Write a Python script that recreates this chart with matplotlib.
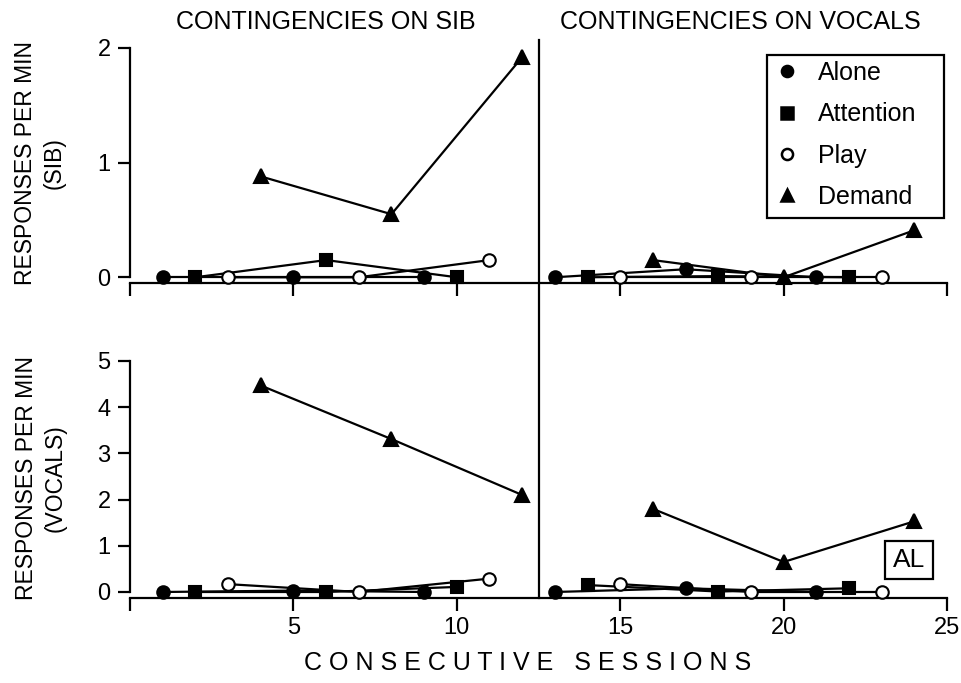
import matplotlib
matplotlib.use("Agg")
import matplotlib.pyplot as plt
from matplotlib.lines import Line2D
from matplotlib.patches import Rectangle
from matplotlib import transforms

plt.rcParams['font.family'] = ['Liberation Sans', 'DejaVu Sans']

# ---------------- data ----------------
conditions = ["Alone", "Attention", "Play", "Demand"]
markers = {"Alone": "o", "Attention": "s", "Play": "o", "Demand": "^"}
faces = {"Alone": "black", "Attention": "black", "Play": "white", "Demand": "black"}

# sessions per condition, phase 1 (contingencies on SIB) and phase 2 (on vocals)
sess_p1 = {"Alone": [1, 5, 9], "Attention": [2, 6, 10], "Play": [3, 7, 11], "Demand": [4, 8, 12]}
sess_p2 = {"Alone": [13, 17, 21], "Attention": [14, 18, 22], "Play": [15, 19, 23], "Demand": [16, 20, 24]}

# SIB responses per min
sib_p1 = {"Alone": [0, 0, 0], "Attention": [0, 0.15, 0], "Play": [0, 0, 0.15], "Demand": [0.88, 0.55, 1.92]}
sib_p2 = {"Alone": [0, 0.07, 0], "Attention": [0, 0.01, 0], "Play": [0, 0, 0], "Demand": [0.15, 0.0, 0.41]}

# Vocal responses per min
voc_p1 = {"Alone": [0, 0.03, 0], "Attention": [0, 0, 0.11], "Play": [0.17, 0, 0.29], "Demand": [4.47, 3.31, 2.1]}
voc_p2 = {"Alone": [0, 0.08, 0], "Attention": [0.15, 0.01, 0.08], "Play": [0.17, 0, 0], "Demand": [1.8, 0.65, 1.53]}

phase_change = 12.5
xticks = [0, 5, 10, 15, 20, 25]
xticklabels = ["", "5", "10", "15", "20", "25"]
sib_yticks = [0, 1, 2]
voc_yticks = [0, 1, 2, 3, 4, 5]
titles = ["CONTINGENCIES ON SIB", "CONTINGENCIES ON VOCALS"]

# ---------------- figure ----------------
W, H = 961, 683
fig = plt.figure(figsize=(W / 100, H / 100), dpi=100)

def fx(px):
    return px / W

def fy(py):
    return (H - py) / H

ax1 = fig.add_axes([fx(130), fy(283), fx(947) - fx(130), fy(48) - fy(283)])
ax2 = fig.add_axes([fx(130), fy(598), fx(947) - fx(130), fy(361) - fy(598)])

LW = 1.6
MS = 9

def draw(ax, d1, d2):
    for c in conditions:
        for sess, d in ((sess_p1, d1), (sess_p2, d2)):
            ax.plot(sess[c], d[c], color="black", lw=LW, marker=markers[c],
                    markersize=MS if c != "Demand" else MS + 0.5,
                    markerfacecolor=faces[c], markeredgecolor="black",
                    markeredgewidth=1.5, clip_on=False,
                    zorder=4 if c == "Play" else 3)

draw(ax1, sib_p1, sib_p2)
draw(ax2, voc_p1, voc_p2)

for ax, ylo, yhi, yt in ((ax1, -0.05, 2.0, sib_yticks), (ax2, -0.13, 5.0, voc_yticks)):
    ax.set_xlim(0, 25)
    ax.set_ylim(ylo, yhi)
    ax.set_xticks(xticks)
    ax.set_yticks(yt)
    ax.set_yticklabels([str(v) for v in yt])
    for s in ("top", "right"):
        ax.spines[s].set_visible(False)
    ax.spines["left"].set_bounds(0, yhi)
    ax.spines["bottom"].set_bounds(0, 25)
    ax.spines["left"].set_linewidth(LW)
    ax.spines["bottom"].set_linewidth(LW)
    ax.tick_params(direction="out", length=9, width=LW, labelsize=17, pad=5)

ax1.set_xticklabels([""] * len(xticks))
ax2.set_xticklabels(xticklabels)

# phase change line spanning both panels
trans = transforms.blended_transform_factory(ax1.transData, fig.transFigure)
fig.add_artist(Line2D([phase_change, phase_change], [fy(40), fy(598)],
                      transform=trans, color="black", lw=LW))

# titles
fig.text(fx(326), fy(22), titles[0], ha="center", va="center", fontsize=18)
fig.text(fx(740), fy(22), titles[1], ha="center", va="center", fontsize=18)

# y labels
fig.text(fx(40), fy(163), "RESPONSES PER MIN\n(SIB)", rotation=90, ha="center",
         va="center", multialignment="center", fontsize=16.5, linespacing=1.3)
fig.text(fx(41), fy(478), "RESPONSES PER MIN\n(VOCALS)", rotation=90, ha="center",
         va="center", multialignment="center", fontsize=16.5, linespacing=1.3)

# x label
fig.text(fx(528), fy(663), " ".join("CONSECUTIVE") + "   " + " ".join("SESSIONS"),
         ha="center", va="center", fontsize=18)

# legend (frame drawn separately)
handles = [Line2D([], [], linestyle="none", marker=markers[c], markersize=8,
                  markerfacecolor=faces[c], markeredgecolor="black", markeredgewidth=1.8)
           for c in conditions]
leg = fig.legend(handles, conditions, loc="upper left",
                 bbox_to_anchor=(fx(767), fy(55)), bbox_transform=fig.transFigure,
                 borderaxespad=0, frameon=False, fontsize=18,
                 labelspacing=0.69, handlelength=1.12, handletextpad=0.68,
                 borderpad=0.24)
fig.add_artist(Rectangle((fx(767), fy(218)), fx(944) - fx(767), fy(55) - fy(218),
                         transform=fig.transFigure, fill=False, edgecolor="black", lw=LW))

# AL box
fig.text(fx(909), fy(560), "AL", ha="center", va="center", fontsize=19,
         bbox=dict(boxstyle="square,pad=0.28", facecolor="white", edgecolor="black", lw=LW))

fig.savefig("out.png", dpi=100)
